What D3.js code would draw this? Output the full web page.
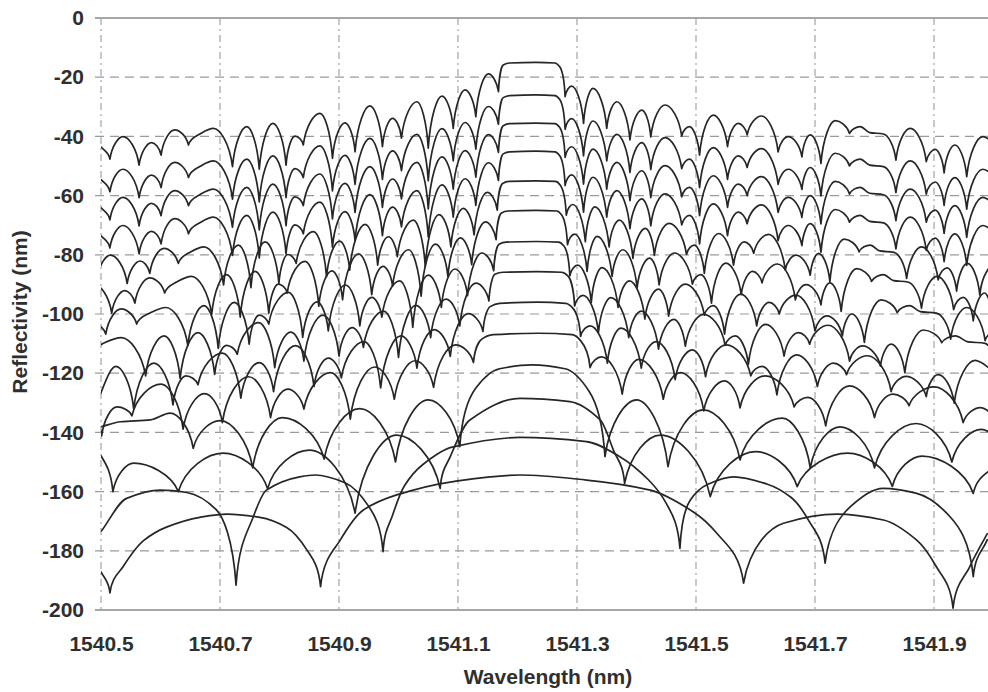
<!DOCTYPE html>
<html>
<head>
<meta charset="utf-8">
<script src="https://cdn.jsdelivr.net/npm/d3@7"></script>
<style>
  html, body { margin: 0; padding: 0; background: #fff; }
  svg { display: block; }
  text { font-family: "Liberation Sans", Arial, sans-serif; font-weight: bold; fill: #2f2f2f; }
</style>
</head>
<body>
<svg id="chart" width="988" height="692"></svg>
<script>
// ---- axis ticks ----
const xTicks = [1540.5, 1540.7, 1540.9, 1541.1, 1541.3, 1541.5, 1541.7, 1541.9];
const yTicks = [0, -20, -40, -60, -80, -100, -120, -140, -160, -180, -200];

// ---- spectra: wavelength (nm) and reflectivity (dB), top trace first ----
const wlTop = [1540.500,1540.515,1540.537,1540.564,1540.585,1540.601,1540.624,1540.647,1540.666,1540.689,
  1540.721,1540.745,1540.766,1540.789,1540.811,1540.826,1540.840,1540.868,1540.889,1540.910,
  1540.927,1540.952,1540.973,1540.990,1541.005,1541.031,1541.050,1541.073,1541.092,1541.112,
  1541.130,1541.151,1541.168,1541.176,1541.187,1541.231,1541.263,1541.271,1541.280,1541.291,
  1541.311,1541.327,1541.350,1541.367,1541.389,1541.409,1541.424,1541.448,1541.476,1541.489,
  1541.506,1541.529,1541.553,1541.571,1541.586,1541.610,1541.638,1541.655,1541.678,1541.692,
  1541.710,1541.734,1541.758,1541.776,1541.792,1541.815,1541.836,1541.860,1541.887,1541.902,
  1541.917,1541.935,1541.955,1541.982,1542.000];

const db00 = [-43.5,-47.7,-40.1,-49.7,-42.1,-46.3,-37.8,-42.9,-39.2,-37.3,
  -50.2,-36.7,-51.1,-35.6,-49.7,-39.9,-42.9,-32.2,-47.4,-35.4,
  -45.2,-29.7,-43.5,-33.9,-40.6,-28.3,-44.0,-26.4,-37.3,-24.3,
  -33.3,-18.9,-24.9,-15.9,-15.2,-15.0,-15.2,-16.5,-26.6,-23.0,
  -35.6,-23.8,-37.3,-28.3,-41.2,-31.1,-40.2,-29.4,-39.9,-36.7,
  -46.3,-32.8,-43.5,-35.6,-39.5,-33.1,-45.2,-40.1,-46.9,-39.5,
  -49.1,-34.7,-39.0,-36.7,-38.7,-39.2,-48.0,-37.3,-48.5,-44.4,
  -52.3,-42.9,-53.6,-40.1,-42.0];

const db01 = [-54.5,-58.7,-51.1,-60.7,-53.1,-57.3,-48.8,-53.9,-50.2,-48.3,
  -61.2,-47.7,-62.1,-46.6,-60.7,-50.9,-53.9,-43.2,-58.4,-46.4,
  -56.2,-40.7,-54.5,-44.9,-51.6,-39.3,-55.0,-37.4,-48.3,-35.3,
  -44.3,-29.9,-35.9,-26.9,-26.2,-26.0,-26.2,-27.5,-37.6,-34.0,
  -46.6,-34.8,-48.3,-39.3,-52.2,-42.1,-51.2,-40.4,-50.9,-47.7,
  -57.3,-43.8,-54.5,-46.6,-50.5,-44.1,-56.2,-51.1,-57.9,-50.5,
  -60.1,-45.7,-50.0,-47.7,-49.7,-50.2,-59.0,-48.3,-59.5,-55.4,
  -63.3,-53.9,-64.6,-51.1,-53.0];

const db02 = [-64.0,-68.2,-60.6,-70.2,-62.6,-66.8,-58.3,-63.4,-59.7,-57.8,
  -70.7,-57.2,-71.6,-56.1,-70.2,-60.4,-63.4,-52.7,-67.9,-55.9,
  -65.7,-50.2,-64.0,-54.4,-61.1,-48.8,-64.5,-46.9,-57.8,-44.8,
  -53.8,-39.4,-45.4,-36.4,-35.7,-35.5,-35.7,-37.0,-47.1,-43.5,
  -56.1,-44.3,-57.8,-48.8,-61.7,-51.6,-60.7,-49.9,-60.4,-57.2,
  -66.8,-53.3,-64.0,-56.1,-60.0,-53.6,-65.7,-60.6,-67.4,-60.0,
  -69.6,-55.2,-59.5,-57.2,-59.2,-59.7,-68.5,-57.8,-69.0,-64.9,
  -72.8,-63.4,-74.1,-60.6,-62.5];

const db03 = [-73.5,-77.7,-70.1,-79.7,-72.1,-76.3,-67.8,-72.9,-69.2,-67.3,
  -80.2,-66.7,-81.1,-65.6,-79.7,-69.9,-72.9,-62.2,-77.4,-65.4,
  -75.2,-59.7,-73.5,-63.9,-70.6,-58.3,-74.0,-56.4,-67.3,-54.3,
  -63.3,-48.9,-54.9,-45.9,-45.2,-45.0,-45.2,-46.5,-56.6,-53.0,
  -65.6,-53.8,-67.3,-58.3,-71.2,-61.1,-70.2,-59.4,-69.9,-66.7,
  -76.3,-62.8,-73.5,-65.6,-69.5,-63.1,-75.2,-70.1,-76.9,-69.5,
  -79.1,-64.7,-69.0,-66.7,-68.7,-69.2,-78.0,-67.3,-78.5,-74.4,
  -82.3,-72.9,-83.6,-70.1,-72.0];

const wl04 = [1540.478,1540.494,1540.516,1540.544,1540.566,1540.582,1540.606,1540.630,1540.649,1540.673,
  1540.706,1540.731,1540.752,1540.776,1540.799,1540.814,1540.828,1540.857,1540.879,1540.901,
  1540.918,1540.944,1540.965,1540.983,1540.998,1541.025,1541.045,1541.068,1541.088,1541.109,
  1541.127,1541.149,1541.166,1541.175,1541.186,1541.231,1541.264,1541.272,1541.282,1541.293,
  1541.314,1541.330,1541.354,1541.371,1541.394,1541.415,1541.430,1541.455,1541.484,1541.497,
  1541.514,1541.538,1541.563,1541.581,1541.597,1541.622,1541.650,1541.668,1541.692,1541.706,
  1541.725,1541.749,1541.774,1541.793,1541.809,1541.833,1541.854,1541.879,1541.907,1541.922,
  1541.938,1541.956,1541.977,1542.005];
const db04 = [-83.5,-87.7,-80.1,-89.7,-82.1,-86.3,-77.8,-82.9,-79.2,-77.3,
  -90.2,-76.7,-91.1,-75.6,-89.7,-79.9,-82.9,-72.2,-87.4,-75.4,
  -85.2,-69.7,-83.5,-73.9,-80.6,-68.3,-84.0,-66.4,-77.3,-64.3,
  -73.3,-58.9,-64.9,-55.9,-55.2,-55.0,-55.2,-56.5,-66.6,-63.0,
  -75.6,-63.8,-77.3,-68.3,-81.2,-71.1,-80.2,-69.4,-79.9,-76.7,
  -86.3,-72.8,-83.5,-75.6,-79.5,-73.1,-85.2,-80.1,-86.9,-79.5,
  -89.1,-74.7,-79.0,-76.7,-78.7,-79.2,-88.0,-77.3,-88.5,-84.4,
  -92.3,-82.9,-93.6,-80.1];

const wl05 = [1540.465,1540.489,1540.518,1540.540,1540.557,1540.582,1540.607,1540.627,1540.652,
  1540.686,1540.711,1540.734,1540.759,1540.782,1540.798,1540.813,1540.843,1540.866,1540.888,
  1540.906,1540.933,1540.955,1540.974,1540.990,1541.017,1541.038,1541.062,1541.083,1541.104,
  1541.123,1541.146,1541.164,1541.173,1541.184,1541.231,1541.266,1541.274,1541.284,1541.296,
  1541.317,1541.334,1541.359,1541.377,1541.401,1541.422,1541.438,1541.464,1541.494,1541.508,
  1541.526,1541.550,1541.576,1541.595,1541.611,1541.637,1541.667,1541.685,1541.710,1541.725,
  1541.744,1541.770,1541.795,1541.815,1541.832,1541.856,1541.879,1541.905,1541.933,1541.949,
  1541.966,1541.985,1542.006];
const db05 = [-97.7,-90.1,-99.7,-92.1,-96.3,-87.8,-92.9,-89.2,-87.3,
  -100.2,-86.7,-101.1,-85.6,-99.7,-89.9,-92.9,-82.2,-97.4,-85.4,
  -95.2,-79.7,-93.5,-83.9,-90.6,-78.3,-94.0,-76.4,-87.3,-74.3,
  -83.3,-68.9,-74.9,-65.9,-65.2,-65.0,-65.2,-66.5,-76.6,-73.0,
  -85.6,-73.8,-87.3,-78.3,-91.2,-81.1,-90.2,-79.4,-89.9,-86.7,
  -96.3,-82.8,-93.5,-85.6,-89.5,-83.1,-95.2,-90.1,-96.9,-89.5,
  -99.1,-84.7,-89.0,-86.7,-88.7,-89.2,-98.0,-87.3,-98.5,-94.4,
  -102.3,-92.9,-103.6];

const wl06 = [1540.489,1540.508,1540.534,1540.560,1540.582,1540.609,
  1540.646,1540.673,1540.697,1540.724,1540.749,1540.766,1540.782,1540.815,1540.839,1540.863,
  1540.882,1540.911,1540.935,1540.955,1540.972,1541.002,1541.024,1541.050,1541.072,1541.095,
  1541.116,1541.140,1541.160,1541.169,1541.181,1541.232,1541.269,1541.278,1541.288,1541.301,
  1541.324,1541.342,1541.369,1541.388,1541.414,1541.437,1541.454,1541.482,1541.514,1541.529,
  1541.548,1541.575,1541.602,1541.623,1541.640,1541.668,1541.700,1541.720,1541.746,1541.762,
  1541.783,1541.811,1541.838,1541.859,1541.877,1541.904,1541.928,1541.955,1541.986,1542.004];
const db06 = [-102.6,-106.8,-98.3,-103.4,-99.7,-97.8,
  -110.7,-97.2,-111.6,-96.1,-110.2,-100.4,-103.4,-92.7,-107.9,-95.9,
  -105.7,-90.2,-104.0,-94.4,-101.1,-88.8,-104.5,-86.9,-97.8,-84.8,
  -93.8,-79.4,-85.4,-76.4,-75.7,-75.5,-75.7,-77.0,-87.1,-83.5,
  -96.1,-84.3,-97.8,-88.8,-101.7,-91.6,-100.7,-89.9,-100.4,-97.2,
  -106.8,-93.3,-104.0,-96.1,-100.0,-93.6,-105.7,-100.6,-107.4,-100.0,
  -109.6,-95.2,-99.5,-97.2,-99.2,-99.7,-108.5,-97.8,-109.0,-104.9];

const wl07 = [1540.480,1540.504,1540.534,
  1540.575,1540.606,1540.633,1540.663,1540.691,1540.711,1540.729,1540.765,1540.792,1540.819,
  1540.841,1540.873,1540.900,1540.922,1540.941,1540.975,1541.000,1541.029,1541.054,1541.080,
  1541.103,1541.130,1541.152,1541.162,1541.176,1541.233,1541.274,1541.285,1541.296,1541.310,
  1541.336,1541.357,1541.387,1541.408,1541.437,1541.463,1541.482,1541.513,1541.549,1541.566,
  1541.588,1541.617,1541.648,1541.672,1541.691,1541.722,1541.758,1541.780,1541.810,1541.828,
  1541.851,1541.882,1541.913,1541.936,1541.957,1541.986,1542.013];
const db07 = [-113.6,-109.9,-108.0,
  -120.9,-107.4,-121.8,-106.3,-120.4,-110.6,-113.6,-102.9,-118.1,-106.1,
  -115.9,-100.4,-114.2,-104.6,-111.3,-99.0,-114.7,-97.1,-108.0,-95.0,
  -104.0,-89.6,-95.6,-86.6,-85.9,-85.7,-85.9,-87.2,-97.3,-93.7,
  -106.3,-94.5,-108.0,-99.0,-111.9,-101.8,-110.9,-100.1,-110.6,-107.4,
  -117.0,-103.5,-114.2,-106.3,-110.2,-103.8,-115.9,-110.8,-117.6,-110.2,
  -119.8,-105.4,-109.7,-107.4,-109.4,-109.9,-118.7];

const wl08 = [1540.490,1540.525,1540.555,1540.589,1540.621,1540.643,1540.663,1540.704,1540.735,1540.766,
  1540.790,1540.827,1540.858,1540.882,1540.904,1540.942,1540.970,1541.004,1541.031,1541.060,
  1541.087,1541.117,1541.142,1541.154,1541.170,1541.234,1541.281,1541.293,1541.306,1541.322,
  1541.351,1541.374,1541.408,1541.433,1541.465,1541.494,1541.516,1541.551,1541.592,1541.611,
  1541.636,1541.669,1541.704,1541.731,1541.753,1541.788,1541.828,1541.853,1541.887,1541.907,
  1541.934,1541.969,1542.004];
const db08 = [-131.2,-117.7,-132.1,-116.6,-130.7,-120.9,-123.9,-113.2,-128.4,-116.4,
  -126.2,-110.7,-124.5,-114.9,-121.6,-109.3,-125.0,-107.4,-118.3,-105.3,
  -114.3,-99.9,-105.9,-97.5,-96.4,-96.0,-96.4,-98.0,-107.6,-104.0,
  -116.6,-104.8,-118.3,-109.3,-122.2,-112.1,-121.2,-110.4,-120.9,-117.7,
  -127.3,-113.8,-124.5,-116.6,-120.5,-114.1,-126.2,-121.1,-127.9,-120.5,
  -130.1,-115.7,-120.0];

const wl09 = [1540.463,1540.501,1540.527,1540.552,1540.601,1540.638,1540.674,
  1540.704,1540.748,1540.785,1540.814,1540.841,1540.886,1540.919,1540.960,1540.993,1541.028,
  1541.059,1541.096,1541.126,1541.140,1541.159,1541.236,1541.292,1541.306,1541.322,1541.341,
  1541.376,1541.404,1541.445,1541.474,1541.513,1541.548,1541.574,1541.616,1541.665,1541.688,
  1541.718,1541.758,1541.800,1541.831,1541.858,1541.900,1541.949,1541.978,1542.019];
const db09 = [-127.1,-141.2,-131.4,-134.4,-123.7,-138.9,-126.9,
  -136.7,-121.2,-135.0,-125.4,-132.1,-119.8,-135.5,-117.9,-128.8,-115.8,
  -124.8,-110.4,-116.4,-108.5,-107.0,-106.5,-107.0,-109.0,-118.1,-114.5,
  -127.1,-115.3,-128.8,-119.8,-132.7,-122.6,-131.7,-120.9,-131.4,-128.2,
  -137.8,-124.3,-135.0,-127.1,-131.0,-124.6,-136.7,-131.6,-138.4];

const wl10 = [1540.500,1540.533,1540.583,1540.616,1540.655,1540.700,1540.755,1540.805,1540.875,1540.935,
  1540.995,1541.050,1541.103,1541.130,1541.170,1541.225,1541.280,1541.320,1541.347,1541.400,
  1541.453,1541.512,1541.574,1541.645,1541.692,1541.742,1541.800,1541.870,1541.930,1541.980,1542.010];
const db10 = [-138.1,-136.4,-135.8,-133.5,-145.4,-136.0,-152.0,-135.0,-149.0,-132.0,
  -150.0,-129.0,-144.8,-125.0,-118.5,-117.2,-118.5,-126.0,-148.2,-129.0,
  -151.6,-132.4,-149.3,-135.2,-152.0,-138.1,-152.0,-137.0,-150.0,-139.0,-142.0];

const wl11 = [1540.490,1540.520,1540.555,1540.630,1540.705,1540.780,1540.850,1540.927,1540.997,1541.070,
  1541.087,1541.120,1541.204,1541.288,1541.339,1541.361,1541.380,1541.440,1541.524,1541.600,
  1541.670,1541.755,1541.830,1541.880,1541.966,1542.010];
const db11 = [-144.0,-160.0,-150.4,-160.0,-147.0,-159.0,-146.0,-167.3,-140.9,-158.9,
  -148.2,-135.8,-128.5,-129.6,-135.8,-145.9,-157.2,-140.9,-161.7,-146.5,
  -158.3,-147.0,-158.3,-148.0,-160.6,-150.0];

const wl12 = [1540.500,1540.543,1540.600,1540.644,1540.694,1540.727,1540.756,1540.778,1540.834,1540.860,
  1540.910,1540.950,1540.974,1540.990,1541.010,1541.040,1541.090,1541.204,1541.316,1541.372,
  1541.420,1541.450,1541.473,1541.490,1541.520,1541.563,1541.620,1541.660,1541.690,1541.717,
  1541.760,1541.815,1541.871,1541.927,1541.966,1541.990];
const db12 = [-173.5,-162.3,-159.5,-160.3,-166.2,-191.6,-168.5,-159.5,-155.0,-154.4,
  -157.0,-165.0,-180.3,-168.0,-158.0,-151.0,-145.0,-141.7,-143.1,-148.2,
  -156.0,-164.0,-179.2,-163.0,-157.5,-155.0,-157.5,-162.0,-170.0,-184.2,
  -165.0,-158.9,-160.6,-168.5,-188.7,-176.0];

const wl13 = [1540.500,1540.515,1540.537,1540.572,1540.610,1540.666,1540.712,1540.767,1540.812,1540.846,
  1540.869,1540.902,1540.941,1540.997,1541.092,1541.204,1541.316,1541.423,1541.495,1541.535,
  1541.580,1541.647,1541.737,1541.815,1541.871,1541.904,1541.932,1541.960,1541.990];
const db13 = [-187.0,-194.2,-185.4,-176.5,-172.0,-168.7,-167.6,-168.7,-172.1,-179.7,
  -192.1,-176.4,-166.2,-161.1,-156.6,-154.4,-156.1,-159.5,-166.8,-174.1,
  -190.9,-170.7,-167.6,-169.6,-176.4,-185.4,-199.4,-185.4,-174.0];

const spectra = [
  [wlTop, db00], [wlTop, db01], [wlTop, db02], [wlTop, db03],
  [wl04, db04], [wl05, db05], [wl06, db06], [wl07, db07], [wl08, db08],
  [wl09, db09], [wl10, db10], [wl11, db11], [wl12, db12], [wl13, db13]
].map(([w, r]) => d3.zip(w, r));

// ---- layout ----
const W = 988, H = 692;
const plot = { left: 101, right: 993.5, top: 18, bottom: 610 };

const x = d3.scaleLinear().domain([1540.5, 1542.0]).range([plot.left, plot.right]);
const y = d3.scaleLinear().domain([0, -200]).range([plot.top, plot.bottom]);

const svg = d3.select("#chart");
svg.append("rect").attr("width", W).attr("height", H).attr("fill", "#fff");

// ---- grid ----
const grid = svg.append("g");
grid.selectAll("line.h").data(yTicks).join("line")
  .attr("x1", plot.left - 6).attr("x2", W)
  .attr("y1", d => y(d)).attr("y2", d => y(d))
  .attr("stroke", d => (d === 0 || d === -200) ? "#8a8a8a" : "#9a9a9a")
  .attr("stroke-width", d => (d === 0 || d === -200) ? 1.4 : 1.2)
  .attr("stroke-dasharray", d => (d === 0 || d === -200) ? null : "9,6");

grid.selectAll("line.v").data(xTicks).join("line")
  .attr("x1", d => x(d)).attr("x2", d => x(d))
  .attr("y1", plot.top).attr("y2", plot.bottom)
  .attr("stroke", "#a5a5a5").attr("stroke-width", 1.2)
  .attr("stroke-dasharray", "7,4,2,4");

// ---- spectral lobes: rounded arches that meet in sharp nulls ----
function LobeCurve(context) { this._context = context; }
LobeCurve.prototype = {
  areaStart() { this._line = 0; },
  areaEnd() { this._line = NaN; },
  lineStart() { this._x = []; this._y = []; },
  point(px, py) { this._x.push(+px); this._y.push(+py); },
  lineEnd() {
    const X = this._x, Y = this._y, n = X.length, c = this._context;
    if (!n) return;
    c.moveTo(X[0], Y[0]);
    if (n === 1) return;
    // a null is a local minimum in dB, i.e. a local maximum of screen y
    const isNull = X.map((_, i) => i > 0 && i < n - 1 && Y[i] > Y[i - 1] && Y[i] > Y[i + 1]);
    const s = [];
    for (let i = 0; i < n - 1; i++) s.push((Y[i + 1] - Y[i]) / (X[i + 1] - X[i]));
    const m = X.map((_, i) => {
      if (i === 0) return s[0];
      if (i === n - 1) return s[n - 2];
      const a = s[i - 1], b = s[i];
      if (a * b <= 0) return 0;
      return 2 * a * b / (a + b);
    });
    for (let i = 0; i < n - 1; i++) {
      const h = X[i + 1] - X[i], dy = Y[i + 1] - Y[i];
      let c1x, c1y, c2x, c2y;
      if (isNull[i]) { c1x = X[i] + h * 0.16; c1y = Y[i] + dy * 0.62; }
      else { c1x = X[i] + h / 3; c1y = Y[i] + m[i] * h / 3; }
      if (isNull[i + 1]) { c2x = X[i + 1] - h * 0.16; c2y = Y[i + 1] - dy * 0.62; }
      else { c2x = X[i + 1] - h / 3; c2y = Y[i + 1] - m[i + 1] * h / 3; }
      c.bezierCurveTo(c1x, c1y, c2x, c2y, X[i + 1], Y[i + 1]);
    }
  }
};
const curveLobe = ctx => new LobeCurve(ctx);

svg.append("clipPath").attr("id", "plotClip")
  .append("rect")
  .attr("x", plot.left).attr("y", plot.top - 1)
  .attr("width", plot.right - plot.left).attr("height", plot.bottom - plot.top + 1);

const line = d3.line().x(d => x(d[0])).y(d => y(d[1])).curve(curveLobe);

svg.append("g").attr("clip-path", "url(#plotClip)")
  .selectAll("path").data(spectra).join("path")
  .attr("d", line)
  .attr("fill", "none")
  .attr("stroke", "#262626")
  .attr("stroke-width", 1.7)
  .attr("stroke-linejoin", "round");

// ---- axes ----
const yAxis = svg.append("g").attr("transform", `translate(${plot.left},0)`)
  .call(d3.axisLeft(y).tickValues(yTicks).tickSize(0).tickPadding(17).tickFormat(d => String(d)));
const xAxis = svg.append("g").attr("transform", `translate(0,${plot.bottom})`)
  .call(d3.axisBottom(x).tickValues(xTicks).tickSize(0).tickPadding(26).tickFormat(d => d.toFixed(1)));
[yAxis, xAxis].forEach(g => {
  g.select(".domain").remove();
  g.selectAll("text").attr("font-size", 21).attr("font-family", "Liberation Sans, Arial, sans-serif")
    .attr("font-weight", "bold").attr("fill", "#2f2f2f");
});

svg.append("text")
  .attr("transform", "translate(27,312) rotate(-90)")
  .attr("text-anchor", "middle")
  .attr("font-size", 21)
  .text("Reflectivity (nm)");

svg.append("text")
  .attr("x", 548).attr("y", 684)
  .attr("text-anchor", "middle")
  .attr("font-size", 21)
  .text("Wavelength (nm)");
</script>
</body>
</html>
